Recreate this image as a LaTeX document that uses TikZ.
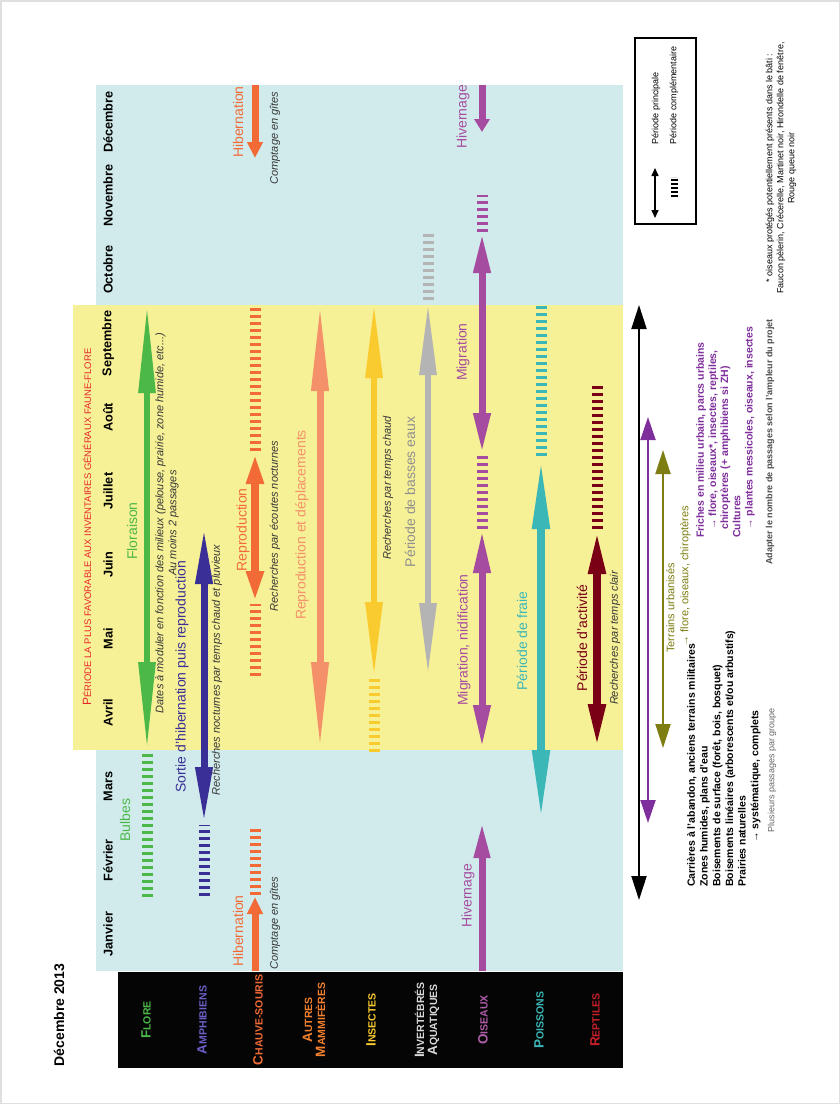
\documentclass[tikz,border=0pt]{standalone}
\usepackage{fontspec}
\setmainfont{Liberation Sans}
\usetikzlibrary{arrows.meta}

\definecolor{bluebg}{RGB}{209,235,236}
\definecolor{yellowbg}{RGB}{246,240,150}
\definecolor{cflore}{RGB}{75,184,72}
\definecolor{camph}{RGB}{58,47,150}
\definecolor{camphtxt}{RGB}{106,96,200}
\definecolor{cchiro}{RGB}{242,107,54}
\definecolor{cmamm}{RGB}{244,145,106}
\definecolor{cins}{RGB}{249,203,46}
\definecolor{cinv}{RGB}{180,180,180}
\definecolor{cois}{RGB}{166,76,160}
\definecolor{cpois}{RGB}{59,183,184}
\definecolor{crept}{RGB}{122,0,21}
\definecolor{creptxt}{RGB}{200,32,42}
\definecolor{colive}{RGB}{125,125,18}
\definecolor{cviolet}{RGB}{127,47,156}
\definecolor{notegray}{RGB}{55,55,55}
\definecolor{headred}{RGB}{232,38,42}

\newcommand\capsc[2]{{\fontsize{13.5}{13}\selectfont #1}{\fontsize{10.5}{13}\selectfont #2}}

\tikzset{
  month/.style={rotate=90, font=\bfseries\fontsize{12.7}{14}\selectfont},
  lab/.style={rotate=90, font=\fontsize{14}{16}\selectfont},
  note/.style={rotate=90, font=\itshape\fontsize{11}{13}\selectfont, text=notegray, align=center},
  cat/.style={rotate=90, font=\bfseries\fontsize{10.5}{13}\selectfont, align=center},
  block/.style={rotate=90, anchor=north west, align=left, inner sep=0pt},
  extra/.style={line width=11pt, dash pattern=on 3.5pt off 3.5pt},
  both/.style={arrows={Triangle[length=#1,width=16pt]-Triangle[length=#1,width=16pt]}},
  one/.style={arrows={-Triangle[length=#1,width=15pt]}},
}

\begin{document}
\begin{tikzpicture}[x=1pt,y=-1pt]
\useasboundingbox (0,0) rectangle (840,1104);
\fill[white] (0,0) rectangle (840,1104);
\draw[gray!25, line width=3pt] (0,0) rectangle (840,1104);

% background
\fill[bluebg] (96,85) rectangle (623,971);
\fill[yellowbg] (73,305) rectangle (623,750);
\fill[black!98] (118,972) rectangle (623,1068);

\node[rotate=90, font=\bfseries\fontsize{14}{16}\selectfont] (title) at (59,1015) {Décembre 2013};
\node[rotate=90, text=headred] (header) at (87,527) {\fontsize{12}{14}\selectfont P\fontsize{9.5}{14}\selectfont ÉRIODE LA PLUS FAVORABLE AUX INVENTAIRES GÉNÉRAUX FAUNE-FLORE};

% months
\foreach \m [count=\i] in {Janvier,Février,Mars,Avril,Mai,Juin,Juillet,Août,Septembre,Octobre,Novembre,Décembre}
  \node[month] (m\i) at (108,{971-(\i-0.5)*73.83}) {\m};

% groups
\node[cat, text=cflore] (flore) at (146,1020) {\capsc{F}{LORE}};
\node[cat, text=camphtxt] (amph) at (202,1020) {\capsc{A}{MPHIBIENS}};
\node[cat, text=cchiro] (chiro) at (258,1020) {\capsc{C}{HAUVE-SOURIS}};
\node[cat, text=cchiro!85!yellow] (mamm) at (314,1020) {\capsc{A}{UTRES}\\\capsc{M}{AMMIFÈRES}};
\node[cat, text=cins] (ins) at (371,1020) {\capsc{I}{NSECTES}};
\node[cat, text=black!15] (inv) at (427,1020) {\capsc{I}{NVERTÉBRÉS}\\\capsc{A}{QUATIQUES}};
\node[cat, text=cois!90!white] (ois) at (483,1020) {\capsc{O}{ISEAUX}};
\node[cat, text=cpois] (pois) at (539,1020) {\capsc{P}{OISSONS}};
\node[cat, text=creptxt] (rept) at (595,1020) {\capsc{R}{EPTILES}};

% flore
\draw[cflore, extra] (147,897) -- (147,751);
\draw[cflore, line width=6pt, both=88pt] (147,750) -- (147,305);
\node[lab, text=cflore] (bulbes) at (125,820) {Bulbes};
\node[lab, text=cflore] (floraison) at (132,531) {Floraison};
\node[note] (dates) at (167,523) {Dates à moduler en fonction des milieux (pelouse, prairie, zone humide, etc...)\\Au moins 2 passages};

% amphibiens
\draw[camph, extra] (204,896) -- (204,825);
\draw[camph, line width=7pt, both=56pt] (204,823) -- (204,528);
\node[lab, text=camph] (sortie) at (182,677) {Sortie d'hibernation puis reproduction};
\node[note] (pluie) at (217,670) {Recherches nocturnes par temps chaud et pluvieux};

% chauves-souris
\draw[cchiro, line width=7pt, one=17pt] (255,971) -- (255,897);
\draw[cchiro, extra] (255,895) -- (255,825);
\draw[cchiro, extra] (255,676) -- (255,604);
\draw[cchiro, line width=8pt, both=31pt] (255,602) -- (255,453);
\draw[cchiro, extra] (255,451) -- (255,305);
\draw[cchiro, line width=7pt, one=16pt] (255,85) -- (255,158);
\node[lab, text=cchiro] (hib1) at (238,931) {Hibernation};
\node[note] (gites1) at (275,923) {Comptage en gîtes};
\node[lab, text=cchiro] (repro) at (243,530) {Reproduction};
\node[note] (ecoutes) at (275,526) {Recherches par écoutes nocturnes};
\node[lab, text=cchiro] (hib2) at (238,122) {Hibernation};
\node[note] (gites2) at (275,138) {Comptage en gîtes};

% autres mammiferes
\draw[cmamm, line width=7pt, both=88pt] (320,750) -- (320,303);
\node[lab, text=cmamm] (deplac) at (302,525) {Reproduction et déplacements};

% insectes
\draw[cins, extra] (374,752) -- (374,678);
\draw[cins, line width=6pt, both=75pt] (374,677) -- (374,303);
\node[note] (chaud) at (388,488) {Recherches par temps chaud};

% invertebres aquatiques
\draw[cinv, line width=6pt, both=72pt] (428,675) -- (428,303);
\draw[cinv, extra] (428,300) -- (428,232);
\node[lab, text=cinv!80!black] (basses) at (410,492) {Période de basses eaux};

% oiseaux
\draw[cois, line width=7pt, one=36pt] (482,971) -- (482,822);
\draw[cois, line width=7pt, both=43pt] (482,748) -- (482,530);
\draw[cois, extra] (482,529) -- (482,455);
\draw[cois, line width=7pt, both=40pt] (482,453) -- (482,233);
\draw[cois, extra] (482,232) -- (482,195);
\draw[cois, line width=7pt, one=13pt] (482,85) -- (482,132);
\node[lab, text=cois] (hiv1) at (468,896) {Hivernage};
\node[lab, text=cois] (nidif) at (464,640) {Migration, nidification};
\node[lab, text=cois] (migr) at (463,352) {Migration};
\node[lab, text=cois] (hiv2) at (463,117) {Hivernage};

% poissons
\draw[cpois, line width=8pt, both=72pt] (541,822) -- (541,457);
\draw[cpois, extra] (541,456) -- (541,305);
\node[lab, text=cpois] (fraie) at (522,641) {Période de fraie};

% reptiles
\draw[crept, line width=8pt, both=44pt] (597,748) -- (597,530);
\draw[crept, extra] (597,529) -- (597,382);
\node[lab, text=crept] (activ) at (582,638) {Période d'activité};
\node[note] (clair) at (615,638) {Recherches par temps clair};

% passages
\draw[black, line width=2pt, arrows={Triangle[length=24pt,width=15pt]-Triangle[length=24pt,width=15pt]}] (639,305) -- (639,900);
\draw[cviolet, line width=2pt, arrows={Triangle[length=23pt,width=15pt]-Triangle[length=23pt,width=15pt]}] (648,417) -- (648,823);
\draw[colive, line width=2pt, arrows={Triangle[length=24pt,width=15pt]-Triangle[length=24pt,width=15pt]}] (663,450) -- (663,748);

\node[block, text=colive, font=\fontsize{11}{14}\selectfont] (urb) at (666,653) {Terrains urbanisés\\\hspace{0.6em}→ flore, oiseaux, chiroptères};
\node[block, font=\bfseries\fontsize{10.5}{12.7}\selectfont] (sites) at (687,887) {Carrières à l'abandon, anciens terrains militaires\\Zones humides, plans d'eau\\Boisements de surface (forêt, bois, bosquet)\\Boisements linéaires (arborescents et/ou arbustifs)\\Prairies naturelles\\\hspace{4.2em}→ systématique, complets};
\node[block, text=cviolet, font=\bfseries\fontsize{10.5}{12.2}\selectfont] (friches) at (696,538) {Friches en milieu urbain, parcs urbains\\\hspace{0.8em}→ flore, oiseaux*, insectes, reptiles,\\\hspace{0.8em}chiroptères (+ amphibiens si ZH)\\Cultures\\\hspace{0.8em}→ plantes messicoles, oiseaux, insectes};
\node[rotate=90, text=black!60, font=\fontsize{9}{11}\selectfont] (plusieurs) at (772,770) {Plusieurs passages par groupe};
\node[rotate=90, text=black!70, font=\bfseries\fontsize{9}{11}\selectfont] (adapter) at (770,442) {Adapter le nombre de passages selon l'ampleur du projet};

% legende
\draw[line width=1.5pt] (635,38) rectangle (696,224);
\draw[line width=1.5pt, arrows={Triangle[length=8pt,width=7pt]-Triangle[length=8pt,width=7pt]}] (655,168) -- (655,218);
\draw[line width=7pt, dash pattern=on 2pt off 2pt] (674,197) -- (674,177);
\node[rotate=90, anchor=west, font=\fontsize{9}{11}\selectfont] (princ) at (656,148) {Période principale};
\node[rotate=90, anchor=west, font=\fontsize{9}{11}\selectfont] (compl) at (674,148) {Période complémentaire};

\node[rotate=90, align=center, font=\fontsize{9}{11}\selectfont] (oiseaux) at (781,168) {* oiseaux protégés potentiellement présents dans le bâti :\\Faucon pèlerin, Crécerelle, Martinet noir, Hirondelle de fenêtre,\\Rouge queue noir};
\end{tikzpicture}
\end{document}
